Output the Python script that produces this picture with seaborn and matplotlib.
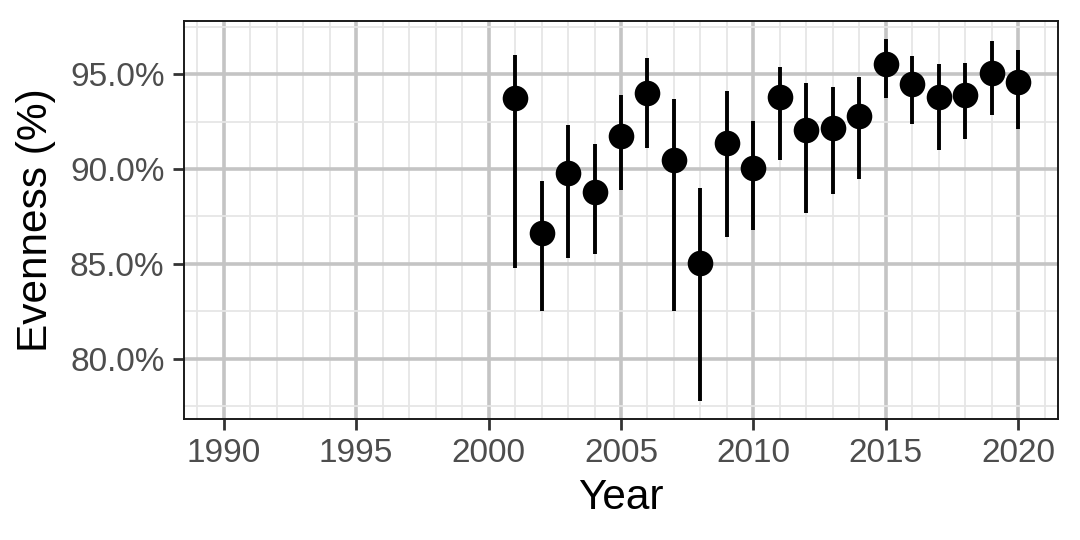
import matplotlib
matplotlib.use("Agg")
import matplotlib.pyplot as plt
import seaborn as sns
import pandas as pd
import numpy as np
from matplotlib.ticker import FuncFormatter

years = [2001, 2002, 2003, 2004, 2005, 2006, 2007, 2008, 2009, 2010,
         2011, 2012, 2013, 2014, 2015, 2016, 2017, 2018, 2019, 2020]
evenness = [93.72, 86.65, 89.77, 88.81, 91.72, 94.00, 90.46, 85.06, 91.36, 90.08,
            93.79, 92.08, 92.16, 92.78, 95.56, 94.47, 93.79, 93.91, 95.08, 94.58]
upper = [96.01, 89.35, 92.34, 91.34, 93.88, 95.84, 93.69, 89.00, 94.11, 92.53,
         95.40, 94.53, 94.33, 94.86, 96.85, 95.94, 95.56, 95.61, 96.76, 96.29]
lower = [84.76, 82.54, 85.30, 85.50, 88.87, 91.12, 82.52, 77.78, 86.42, 86.81,
         90.50, 87.68, 88.68, 89.47, 93.76, 92.39, 91.01, 91.57, 92.86, 92.09]
x_major = [1990, 1995, 2000, 2005, 2010, 2015, 2020]

df = pd.DataFrame({"Year": years, "Evenness": evenness, "lo": lower, "hi": upper})

sns.set_theme(style="white")
plt.rcParams["font.family"] = ["Liberation Sans", "DejaVu Sans"]

fig = plt.figure(figsize=(10.8, 5.4), dpi=100)
ax = fig.add_axes([184/1080, 1 - 419/540, (1058-184)/1080, (419-21)/540])

ax.vlines(df["Year"], df["lo"], df["hi"], color="black", linewidth=2.8, zorder=3)
sns.scatterplot(data=df, x="Year", y="Evenness", ax=ax, color="black", s=340,
                edgecolor="black", linewidth=0, zorder=4)

ax.set_xlim(1988.5, 2021.5)
ymin, ymax = min(lower), max(upper)
pad = 0.05 * (ymax - ymin)
ax.set_ylim(ymin - pad, ymax + pad)

ax.set_xticks(x_major)
ax.set_xticks(np.arange(1989, 2022, 1), minor=True)
ax.set_yticks([80, 85, 90, 95])
ax.set_yticks([77.5, 82.5, 87.5, 92.5, 97.5], minor=True)
ax.yaxis.set_major_formatter(FuncFormatter(lambda v, p: f"{v:.1f}%"))

ax.grid(which="major", color="#C4C4C4", linewidth=2.6, zorder=0)
ax.grid(which="minor", color="#E6E6E6", linewidth=1.3, zorder=0)
ax.set_axisbelow(True)

for s in ax.spines.values():
    s.set_color("#1A1A1A")
    s.set_linewidth(1.4)

ax.tick_params(which="major", length=8, width=2.0, color="#333333",
               labelsize=24, labelcolor="#4D4D4D", pad=6,
               bottom=True, left=True)
ax.tick_params(which="minor", length=0)

ax.set_xlabel("Year", fontsize=30.5, color="black", labelpad=6)
ax.set_ylabel("Evenness (%)", fontsize=30.5, color="black", labelpad=10)

fig.savefig("out.png", dpi=100)
